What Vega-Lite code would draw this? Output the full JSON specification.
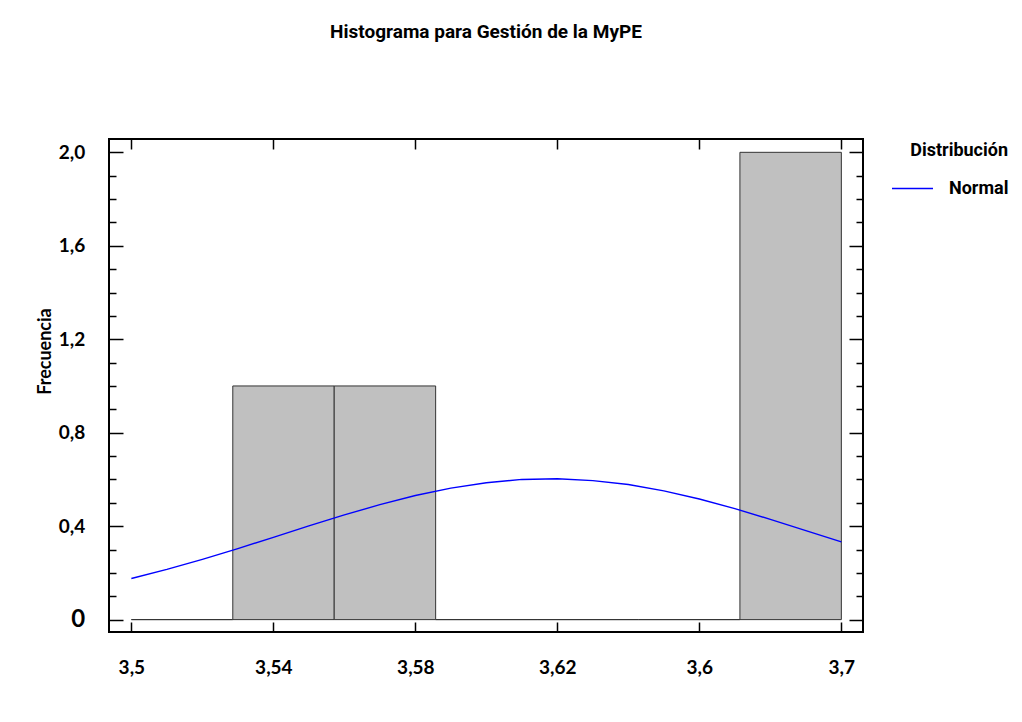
{
  "$schema": "https://vega.github.io/schema/vega-lite/v6.json",
  "width": 754,
  "height": 493,
  "autosize": {"type": "none"},
  "padding": {"left": 109, "top": 139, "right": 159, "bottom": 90},
  "background": "white",
  "config": {
    "view": {"stroke": "black", "strokeWidth": 2},
    "axis": {"grid": false, "domain": false, "tickColor": "black", "tickWidth": 1.5}
  },
  "title": {
    "text": "Histograma para Gestión de la MyPE",
    "anchor": "middle",
    "frame": "group",
    "font": "Roboto",
    "fontSize": 19,
    "fontWeight": "bold",
    "color": "black",
    "baseline": "alphabetic",
    "offset": 81
  },
  "datasets": {
    "bins": [
      {"bin_start": 3.5, "bin_end": 3.528571, "count": 0},
      {"bin_start": 3.528571, "bin_end": 3.557143, "count": 1},
      {"bin_start": 3.557143, "bin_end": 3.585714, "count": 1},
      {"bin_start": 3.585714, "bin_end": 3.614286, "count": 0},
      {"bin_start": 3.614286, "bin_end": 3.642857, "count": 0},
      {"bin_start": 3.642857, "bin_end": 3.671429, "count": 0},
      {"bin_start": 3.671429, "bin_end": 3.7, "count": 2}
    ],
    "curve": [
      {"x": 3.50, "dens": 0.176},
      {"x": 3.51, "dens": 0.215},
      {"x": 3.52, "dens": 0.258},
      {"x": 3.53, "dens": 0.304},
      {"x": 3.54, "dens": 0.352},
      {"x": 3.55, "dens": 0.401},
      {"x": 3.56, "dens": 0.448},
      {"x": 3.57, "dens": 0.492},
      {"x": 3.58, "dens": 0.531},
      {"x": 3.59, "dens": 0.563},
      {"x": 3.60, "dens": 0.586},
      {"x": 3.61, "dens": 0.600},
      {"x": 3.62, "dens": 0.603},
      {"x": 3.63, "dens": 0.595},
      {"x": 3.64, "dens": 0.578},
      {"x": 3.65, "dens": 0.551},
      {"x": 3.66, "dens": 0.516},
      {"x": 3.67, "dens": 0.475},
      {"x": 3.68, "dens": 0.429},
      {"x": 3.69, "dens": 0.381},
      {"x": 3.70, "dens": 0.333}
    ]
  },
  "resolve": {"axis": {"x": "independent", "y": "independent"}},
  "layer": [
    {
      "data": {"name": "bins"},
      "mark": {"type": "rect", "fill": "#C0C0C0", "stroke": "#333333", "strokeWidth": 1},
      "encoding": {
        "x": {
          "field": "bin_start",
          "type": "quantitative",
          "scale": {"domain": [3.4937, 3.7061], "nice": false, "zero": false},
          "axis": {
            "orient": "bottom",
            "title": null,
            "values": [3.5, 3.54, 3.58, 3.62, 3.66, 3.7],
            "tickSize": -10,
            "labelPadding": 36.6,
            "labelFont": "Lato",
            "labelFontSize": 19,
            "labelFontWeight": "bold",
            "labelColor": "black",
            "labelExpr": "datum.value > 3.65 && datum.value < 3.67 ? '3,6' : replace(format(datum.value, '.2~f'), '.', ',')"
          }
        },
        "x2": {"field": "bin_end"},
        "y": {
          "field": "count",
          "type": "quantitative",
          "scale": {"domain": [-0.053, 2.057], "nice": false, "zero": false},
          "axis": {
            "orient": "left",
            "title": "Frecuencia",
            "titleFont": "Lato",
            "titleFontSize": 18,
            "titleFontWeight": "bold",
            "titleColor": "black",
            "titleAngle": -90,
            "titleAlign": "center",
            "titleBaseline": "middle",
            "titleX": -64,
            "titleY": 212,
            "values": [0, 0.1, 0.2, 0.3, 0.4, 0.5, 0.6, 0.7, 0.8, 0.9, 1.0, 1.1, 1.2, 1.3, 1.4, 1.5, 1.6, 1.7, 1.8, 1.9, 2.0],
            "tickSize": -14,
            "tickDash": {"condition": {"test": "round(datum.value * 10) % 4 !== 0", "value": [7, 40]}, "value": [14, 0]},
            "labelPadding": 38.3,
            "labelFont": "Lato",
            "labelFontSize": {"condition": {"test": "datum.value === 0", "value": 24}, "value": 19},
            "labelFontWeight": "bold",
            "labelColor": "black",
            "labelExpr": "round(datum.value * 10) % 4 === 0 ? (datum.value === 0 ? '0' : replace(format(datum.value, '.1f'), '.', ',')) : ''",
            "encode": {"labels": {"update": {"dx": {"signal": "datum.value === 0 ? 15 : 0"}}}}
          }
        },
        "y2": {"datum": 0}
      }
    },
    {
      "data": {"name": "curve"},
      "mark": {"type": "line", "strokeWidth": 1.4},
      "encoding": {
        "x": {
          "field": "x",
          "type": "quantitative",
          "axis": {
            "orient": "top",
            "title": null,
            "labels": false,
            "values": [3.5, 3.54, 3.58, 3.62, 3.66, 3.7],
            "tickSize": -10
          }
        },
        "y": {
          "field": "dens",
          "type": "quantitative",
          "axis": {
            "orient": "right",
            "title": null,
            "labels": false,
            "values": [0, 0.1, 0.2, 0.3, 0.4, 0.5, 0.6, 0.7, 0.8, 0.9, 1.0, 1.1, 1.2, 1.3, 1.4, 1.5, 1.6, 1.7, 1.8, 1.9, 2.0],
            "tickSize": -14,
            "tickDash": {"condition": {"test": "round(datum.value * 10) % 4 !== 0", "value": [7, 40]}, "value": [14, 0]}
          }
        },
        "color": {
          "datum": "Normal",
          "type": "nominal",
          "scale": {"range": ["#0000FF"]},
          "legend": {
            "title": "Distribución",
            "orient": "none",
            "legendX": 782,
            "legendY": 3,
            "symbolType": "stroke",
            "symbolSize": 1681,
            "symbolStrokeWidth": 1.4,
            "labelOffset": 15,
            "titleAnchor": "end",
            "titlePadding": 7,
            "titleFont": "Roboto",
            "titleFontSize": 18,
            "titleFontWeight": "bold",
            "titleColor": "black",
            "labelFont": "Roboto",
            "labelFontSize": 18,
            "labelFontWeight": "bold",
            "labelColor": "black"
          }
        }
      }
    }
  ]
}
